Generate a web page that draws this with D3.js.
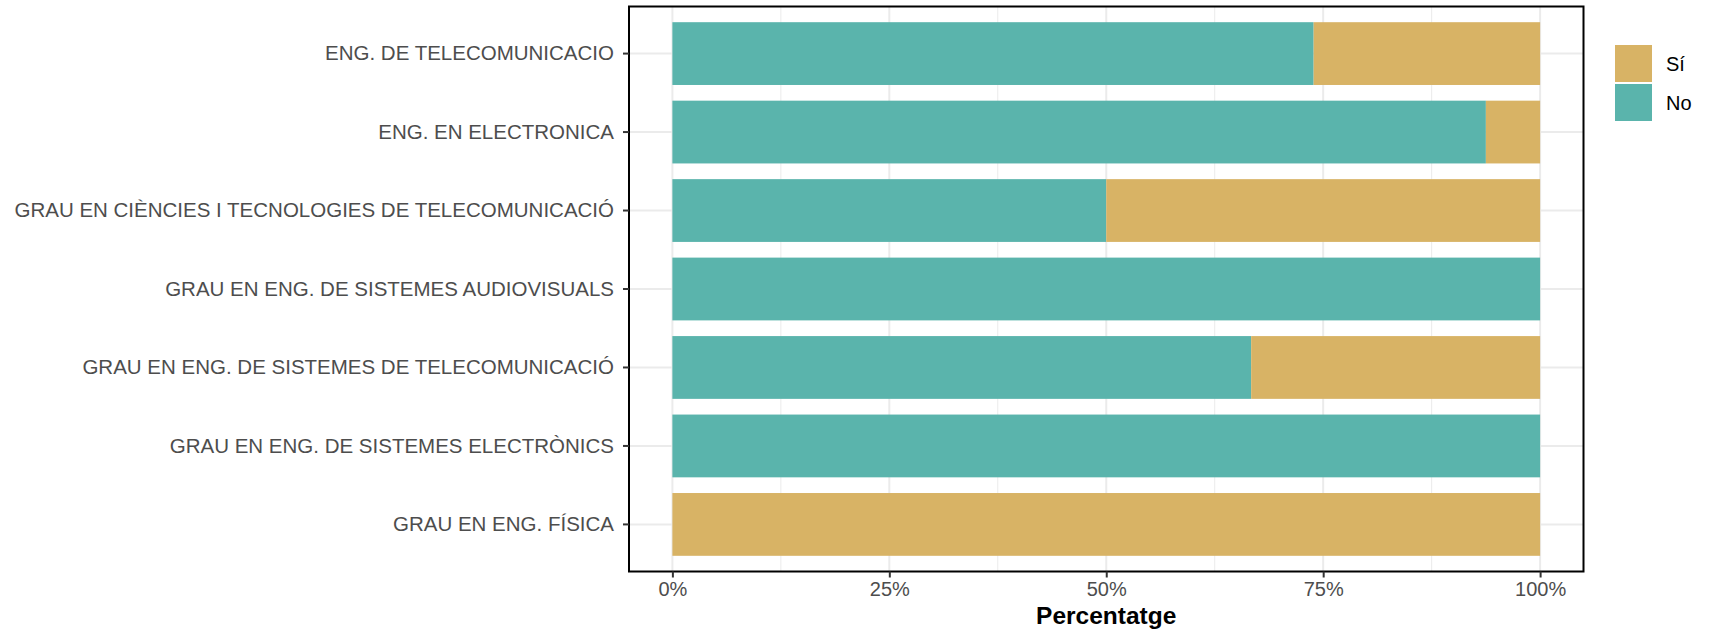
<!DOCTYPE html>
<meta charset="utf-8">
<style>
body { margin: 0; background: #fff; }
text { font-family: "Liberation Sans", Arial, sans-serif; }
</style>
<body>
<svg width="1709" height="632"></svg>
<script src="https://d3js.org/d3.v7.min.js"></script>
<script>

// degrees, top to bottom
var carreres = [
  "ENG. DE TELECOMUNICACIO",
  "ENG. EN ELECTRONICA",
  "GRAU EN CIÈNCIES I TECNOLOGIES DE TELECOMUNICACIÓ",
  "GRAU EN ENG. DE SISTEMES AUDIOVISUALS",
  "GRAU EN ENG. DE SISTEMES DE TELECOMUNICACIÓ",
  "GRAU EN ENG. DE SISTEMES ELECTRÒNICS",
  "GRAU EN ENG. FÍSICA"
];
var pctNo = [0.739, 0.9375, 0.5, 1, 0.667, 1, 0];
var pctSi = [0.261, 0.0625, 0.5, 0, 0.333, 0, 1];
var respostes = ["Sí", "No"];
var xTicks = [0, 0.25, 0.5, 0.75, 1];
var xMinor = [0.125, 0.375, 0.625, 0.875];

var colors = { "Sí": "#d8b365", "No": "#5ab4ac" };

var svg = d3.select("svg"),
    panel = { left: 629, right: 1583.5, top: 6.5, bottom: 571.5 };

var x = d3.scaleLinear()
    .domain([-0.05, 1.05])
    .range([panel.left, panel.right]);

var y = d3.scaleBand()
    .domain(carreres)
    .range([panel.top, panel.bottom])
    .paddingInner(0.2)
    .paddingOuter(0.2);

var data = carreres.map(function(c, i) {
  return { carrera: c, no: pctNo[i], si: pctSi[i] };
});

// grid
var grid = svg.append("g");
grid.selectAll(".minor")
  .data(xMinor)
  .enter().append("line")
    .attr("x1", function(d) { return x(d); })
    .attr("x2", function(d) { return x(d); })
    .attr("y1", panel.top)
    .attr("y2", panel.bottom)
    .attr("stroke", "#ebebeb")
    .attr("stroke-width", 1);
grid.selectAll(".majorx")
  .data(xTicks)
  .enter().append("line")
    .attr("x1", function(d) { return x(d); })
    .attr("x2", function(d) { return x(d); })
    .attr("y1", panel.top)
    .attr("y2", panel.bottom)
    .attr("stroke", "#ebebeb")
    .attr("stroke-width", 2);
grid.selectAll(".majory")
  .data(carreres)
  .enter().append("line")
    .attr("x1", panel.left)
    .attr("x2", panel.right)
    .attr("y1", function(d) { return y(d) + y.bandwidth() / 2; })
    .attr("y2", function(d) { return y(d) + y.bandwidth() / 2; })
    .attr("stroke", "#ebebeb")
    .attr("stroke-width", 2);

// bars
var bars = svg.append("g");
bars.selectAll(".no")
  .data(data)
  .enter().append("rect")
    .attr("x", x(0))
    .attr("y", function(d) { return y(d.carrera); })
    .attr("width", function(d) { return x(d.no) - x(0); })
    .attr("height", y.bandwidth())
    .attr("fill", colors["No"]);
bars.selectAll(".si")
  .data(data)
  .enter().append("rect")
    .attr("x", function(d) { return x(d.no); })
    .attr("y", function(d) { return y(d.carrera); })
    .attr("width", function(d) { return x(d.no + d.si) - x(d.no); })
    .attr("height", y.bandwidth())
    .attr("fill", colors["Sí"]);

// panel border
svg.append("rect")
    .attr("x", panel.left)
    .attr("y", panel.top)
    .attr("width", panel.right - panel.left)
    .attr("height", panel.bottom - panel.top)
    .attr("fill", "none")
    .attr("stroke", "#000")
    .attr("stroke-width", 2);

// axes
var yAxis = svg.append("g")
    .attr("transform", "translate(" + panel.left + ",0)")
    .call(d3.axisLeft(y).tickSize(6).tickPadding(9));
yAxis.select(".domain").remove();
yAxis.selectAll("line").attr("stroke", "#333").attr("stroke-width", 2);
yAxis.selectAll("text")
    .attr("fill", "#4d4d4d")
    .style("font-size", "20.5px")
    .style("font-family", "Liberation Sans, Arial, sans-serif");

var xAxis = svg.append("g")
    .attr("transform", "translate(0," + panel.bottom + ")")
    .call(d3.axisBottom(x).tickValues(xTicks).tickFormat(d3.format(".0%")).tickSize(6).tickPadding(4));
xAxis.select(".domain").remove();
xAxis.selectAll("line").attr("stroke", "#333").attr("stroke-width", 2);
xAxis.selectAll("text")
    .attr("fill", "#4d4d4d")
    .style("font-size", "20px")
    .style("font-family", "Liberation Sans, Arial, sans-serif");

svg.append("text")
    .attr("x", (panel.left + panel.right) / 2)
    .attr("y", 624)
    .attr("text-anchor", "middle")
    .style("font-size", "24.5px")
    .style("font-weight", "bold")
    .text("Percentatge");

// legend
var legend = svg.append("g")
    .attr("transform", "translate(1615,45)");
var item = legend.selectAll("g")
  .data(respostes)
  .enter().append("g")
    .attr("transform", function(d, i) { return "translate(0," + (i * 39) + ")"; });
item.append("rect")
    .attr("width", 37)
    .attr("height", 37)
    .attr("fill", function(d) { return colors[d]; });
item.append("text")
    .attr("x", 51)
    .attr("y", 18.5)
    .attr("dy", "0.36em")
    .style("font-size", "20px")
    .text(function(d) { return d; });

</script>
</body>
